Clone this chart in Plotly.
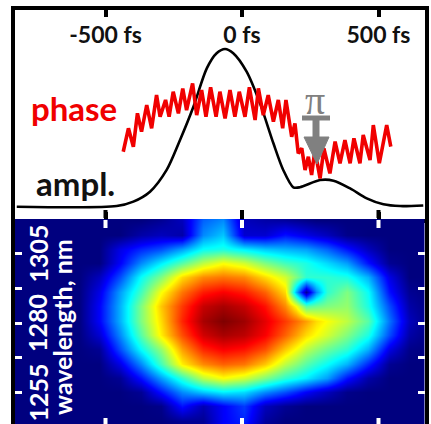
import plotly.graph_objects as go

W, H = 431, 424

amp_t = [-825, -459, -398, -337, -276, -227, -178, -129, -93, -62, -32, 17, 66, 115, 151, 188, 212, 286, 335, 396, 457, 518, 579, 664]
amp_v = [0, .004, .032, .095, .233, .423, .634, .877, .973, 1.0, .973, .856, .655, .402, .233, .123, .123, .169, .165, .116, .053, .015, .004, .008]

phase_t = [-435, -416, -398, -383, -368, -349, -331, -313, -300, -280, -267, -252, -233, -217, -203, -181, -166, -148, -132, -115, -95, -81, -62, -44, -26, -10, 11, 27, 48, 60, 78, 96, 115, 133, 149, 161, 182, 194, 206, 219, 231, 243, 255, 267, 286, 300, 322, 341, 359, 377, 396, 410, 432, 444, 469, 481, 503, 530, 545]
phase_v = [.46, 1.76, .74, 2.59, 1.57, 3.05, 1.76, 3.60, 2.40, 3.33, 2.40, 3.79, 2.59, 3.97, 2.77, 4.25, 2.49, 3.88, 2.40, 4.03, 2.40, 3.79, 2.31, 3.88, 2.40, 3.79, 2.40, 4.03, 2.22, 3.97, 2.49, 3.60, 2.13, 3.33, 1.76, 3.33, 1.29, 2.03, .37, .65, -.55, .18, -.83, .55, -1.02, .65, -.74, 1.02, -.18, 1.11, -.18, 1.20, -.18, 1.39, 0, 1.94, -.18, 1.94, .74]

map_t = [-825.5, -749.8, -674.1, -598.4, -522.7, -447, -371.3, -295.6, -219.9, -144.2, -68.5, 7.2, 82.9, 158.6, 196.5, 234.3, 272.2, 310, 385.7, 461.4, 537.1, 612.8, 688.5]
map_wl = [1317, 1311.8, 1306.7, 1301.5, 1296.4, 1291.2, 1286.1, 1280.9, 1275.8, 1270.6, 1265.4, 1260.3, 1255.1, 1250, 1244.8, 1239.7]
map_z = [
    [0,0,0,0,0,0,0,2,6,22,26,6,4,3,2,1,0,0,0,0,0,0,0],
    [0,0,0,0,0,0,4,6,4,26,32,8,8,14,12,10,8,6,1,0,0,0,0],
    [0,0,0,0,0,10,16,20,28,38,40,36,32,30,29,28,25,22,14,6,0,0,0],
    [0,0,0,0,0,12,26,36,46,56,62,58,50,44,42,40,37,34,28,14,2,0,0],
    [0,0,0,0,6,20,38,50,66,74,76,74,66,58,50,42,42,42,40,30,10,0,0],
    [0,0,0,0,10,28,44,62,76,85,88,85,78,66,30,2,26,42,50,38,14,2,0],
    [0,0,0,0,12,30,50,68,82,93,96,93,86,74,62,46,48,50,52,40,20,4,0],
    [0,0,0,0,12,30,50,66,84,96,100,97,90,82,77,72,66,62,56,46,24,6,0],
    [0,0,0,0,8,26,46,64,80,92,96,94,88,78,72,66,62,58,50,40,20,4,0],
    [0,0,0,0,2,20,38,52,72,84,88,86,80,68,62,56,52,48,42,30,10,1,0],
    [0,0,0,0,0,10,26,44,64,74,78,76,68,56,51,46,42,38,30,16,2,0,0],
    [0,0,0,0,0,2,14,28,42,56,62,58,50,42,39,36,32,28,14,4,0,0,0],
    [0,0,0,0,0,0,2,14,26,32,36,34,26,20,16,12,9,6,1,0,0,0,0],
    [0,0,0,0,0,0,0,1,14,5,12,18,6,2,1,0,0,0,0,0,0,0,0],
    [0,0,0,0,0,0,0,0,2,2,12,16,3,0,0,0,0,0,0,0,0,0,0],
    [0,0,0,0,0,0,0,0,0,4,16,10,0,0,0,0,0,0,0,0,0,0,0],
]

time_ticks = [-500, 0, 500]
time_labels = ["-500 fs", "0 fs", "500 fs"]
wl_ticks = [1255, 1267.5, 1280, 1292.5, 1305]
wl_labels = ["1255", "1280", "1305"]
wl_label_pos = [1255, 1280, 1305]

JET = [[0, "#00007f"], [.125, "#0000ff"], [.375, "#00ffff"], [.625, "#ffff00"], [.875, "#ff0000"], [1, "#7f0000"]]
FONT = "Lato"
TRANGE = [(15 - 242) / .273, (424.5 - 242) / .273]


def px(x):
    return x / W


def py(y):
    return 1 - y / H


fig = go.Figure()
fig.add_trace(go.Scatter(x=phase_t, y=phase_v, xaxis="x", yaxis="y3", mode="lines",
                         line=dict(color="#f00000", width=3.6), showlegend=False))
fig.add_trace(go.Scatter(x=amp_t, y=amp_v, xaxis="x", yaxis="y", mode="lines",
                         line=dict(color="#000000", width=2.6, shape="spline", smoothing=.8), showlegend=False))
fig.add_trace(go.Heatmap(x=map_t, y=map_wl, z=map_z, xaxis="x2", yaxis="y2", colorscale=JET,
                         zmin=0, zmax=100, zsmooth="best", showscale=False))

gray = "#808080"
shapes = [
    dict(type="line", xref="paper", yref="paper", x0=px(302), x1=px(330), y0=py(118), y1=py(118),
         line=dict(color=gray, width=5)),
    dict(type="line", xref="paper", yref="paper", x0=px(316), x1=px(316), y0=py(118), y1=py(142),
         line=dict(color=gray, width=7)),
    dict(type="path", xref="paper", yref="paper", fillcolor=gray, line=dict(color=gray, width=1),
         path=f"M {px(304)} {py(137)} L {px(329)} {py(137)} L {px(317)} {py(164)} Z"),
]
for t in time_ticks:
    for y0, y1, c in [(210, 218, "#000000"), (220, 228, "#ffffff"), (418, 424, "#ffffff")]:
        shapes.append(dict(type="line", xref="x", yref="paper", x0=t, x1=t, y0=py(y0), y1=py(y1),
                           line=dict(color=c, width=4)))

annotations = [
    dict(text="<b>phase</b>", x=px(74), y=py(108), font=dict(color="#f00000", size=33, family=FONT)),
    dict(text="<b>ampl.</b>", x=px(75), y=py(183), font=dict(color="#111111", size=33, family=FONT)),
    dict(text="π", x=px(315), y=py(100), font=dict(color=gray, size=40, family="Liberation Serif")),
    dict(text="<b>wavelength, nm</b>", x=px(62), y=py(327), textangle=-90,
         font=dict(color="#ffffff", size=25, family=FONT)),
]
for a in annotations:
    a.update(xref="paper", yref="paper", showarrow=False, xanchor="center", yanchor="middle")
for v, s in zip(wl_label_pos, wl_labels):
    annotations.append(dict(text=f"<b>{s}</b>", xref="paper", yref="y2", x=px(37), y=v, textangle=-90,
                            showarrow=False, xanchor="center", yanchor="middle",
                            font=dict(color="#ffffff", size=25, family=FONT)))

fig.update_layout(
    width=W, height=H, autosize=False, margin=dict(l=0, r=0, t=0, b=0),
    paper_bgcolor="#ffffff", plot_bgcolor="#ffffff", showlegend=False,
    shapes=shapes, annotations=annotations,
    xaxis=dict(domain=[px(15), px(424.5)], range=TRANGE, anchor="y", side="top",
               tickmode="array", tickvals=time_ticks, ticktext=time_labels,
               ticks="inside", ticklen=7, tickwidth=4, tickcolor="#000000",
               ticklabelposition="inside", ticklabelstandoff=12,
               tickfont=dict(size=23, color="#111111", family=FONT, weight=700),
               showline=True, linewidth=4, linecolor="#000000", mirror="ticks",
               showgrid=False, zeroline=False),
    yaxis=dict(domain=[py(219), py(10)], range=[-.078, 1.247], anchor="x",
               visible=True, showticklabels=False, ticks="", showgrid=False, zeroline=False,
               showline=True, linewidth=4, linecolor="#000000", mirror=True),
    yaxis3=dict(overlaying="y", range=[-3.27, 8.32], visible=False),
    xaxis2=dict(domain=[px(15), px(424.5)], range=TRANGE, anchor="y2",
                showticklabels=False, ticks="", showline=False, showgrid=False, zeroline=False),
    yaxis2=dict(domain=[0, py(219)], range=[1280 - (424 - 323) * .3597, 1280 + (323 - 219) * .3597],
                anchor="x2", tickmode="array", tickvals=wl_ticks, showticklabels=False,
                ticks="inside", ticklen=7, tickwidth=3, tickcolor="#ffffff",
                showline=True, linewidth=4, linecolor="#000000", mirror="ticks",
                showgrid=False, zeroline=False),
)

fig.write_html("out.html", config=dict(displayModeBar=False),
               post_script="document.body.style.margin='0';document.body.style.overflow='hidden';")
